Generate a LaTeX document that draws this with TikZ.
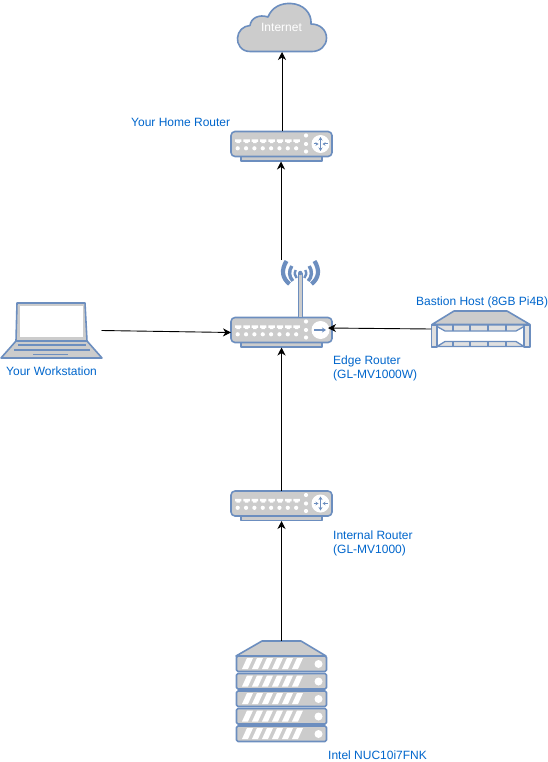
\documentclass[tikz,border=0pt]{standalone}
\usepackage{fontspec}
\setmainfont{Liberation Sans}
\usetikzlibrary{arrows.meta}
\definecolor{edgeblue}{HTML}{6C8EBF}
\definecolor{fillgrey}{HTML}{CCCCCC}
\definecolor{labelblue}{HTML}{0066CC}
\tikzset{
  dev/.style={draw=edgeblue,fill=fillgrey,line width=1.6pt,line join=round},
  thinblue/.style={draw=edgeblue,line width=1.3pt},
  wave/.style={draw=edgeblue,line cap=butt},
  anchorbox/.style={inner sep=0pt,outer sep=0pt,draw=none,rectangle},
  lbl/.style={text=labelblue,font=\fontsize{12}{14}\selectfont,inner sep=0pt,anchor=north west,align=left},
  conn/.style={draw=black,line width=0.9pt,-{Stealth[length=8pt,width=8pt,inset=2.5pt]}},
  pics/routerbody/.style={code={
    \draw[dev] (-40.5,12.5) rectangle (40.5,17);
    \draw[dev,rounded corners=4pt] (-50.5,-12.5) rectangle (50.5,12.5);
    \foreach \x in {0,...,7}{
      \fill[white] (-46.5+\x*8.35,-4.7) -- ++(6.4,0) -- ++(0,2.6) -- ++(-1.4,0) -- ++(0,1.2) -- ++(-3.6,0) -- ++(0,-1.2) -- ++(-1.4,0) -- cycle;
      \fill[white] (-43.8+\x*8.35,4.3) circle (2.1);
    }
    \foreach \y in {-8.5,0,7.5}{\fill[white] (24.5,\y) circle (2.1);}
    \fill[white] (39,0) circle (9);
  }},
  pics/hubsym/.style={code={
    \draw[edgeblue,line width=1pt,-{Stealth[length=3.5pt,width=4pt]}] (0,0) -- (0,-7);
    \draw[edgeblue,line width=1pt,-{Stealth[length=3.5pt,width=4pt]}] (0,0) -- (0,7);
    \draw[edgeblue,line width=1pt,-{Stealth[length=3pt,width=3.5pt]}] (-7,0) -- (-2,0);
    \draw[edgeblue,line width=1pt,-{Stealth[length=3pt,width=3.5pt]}] (7,0) -- (2,0);
  }}
}
\begin{document}
\begin{tikzpicture}[x=1pt,y=-1pt]
\useasboundingbox (0,0) rectangle (548,762);
\fill[white] (0,0) rectangle (548,762);

% Anchor nodes
\node[anchorbox,minimum width=90pt,minimum height=49pt] (cloud) at (282,27.5) {};
\node[anchorbox,minimum width=101pt,minimum height=30pt] (home) at (281.5,146.5) {};
\node[anchorbox,minimum width=101pt,minimum height=30pt] (edge) at (281.5,332.5) {};
\node[anchorbox,minimum width=101pt,minimum height=30pt] (inner) at (281.5,506) {};
\node[anchorbox,minimum width=101pt,minimum height=55pt] (laptop) at (51,330.5) {};
\node[anchorbox,minimum width=99pt,minimum height=36pt] (bastion) at (480.5,329) {};
\node[anchorbox,minimum width=91pt,minimum height=101pt] (server) at (281.5,691) {};
\coordinate (antennatop) at (281,260);
\coordinate (edgeport) at (328,328);

% Cloud
\draw[dev] (250,51.5)
  .. controls (241,51.5) and (237,44) .. (237.5,38)
  .. controls (238,31) and (243,26) .. (250,25.5)
  .. controls (251,18) and (259,14) .. (268,17)
  .. controls (272,7) and (281,3) .. (291,3.5)
  .. controls (303,4) and (312,13) .. (311,24)
  .. controls (320,24) and (326.5,30) .. (326.5,38)
  .. controls (326.5,46) and (320,51.5) .. (312,51.5)
  -- cycle;
\node[font=\fontsize{12}{14}\selectfont,text=white,inner sep=0pt] (cloudtext) at (281.5,27) {Internet};

% Routers
\pic at (281.5,144) {routerbody};
\pic at (320.5,144) {hubsym};
\pic at (281.5,330) {routerbody};
\pic at (281.5,503.5) {routerbody};
\pic at (320.5,503.5) {hubsym};
\draw[edgeblue,line width=1.1pt,-{Stealth[length=4pt,width=5pt]}] (314,330) -- (326,330);

% Antenna
\draw[dev,line width=1pt] (298.7,273) rectangle (302,317);
\draw[wave,line width=4.2pt] (286.5,261) .. controls (281,270) and (282,278) .. (289.5,284);
\draw[wave,line width=3.4pt] (291.8,266) .. controls (288.5,271) and (289,277) .. (292.8,281);
\draw[wave,line width=2.4pt] (295.7,270) .. controls (294.2,273) and (294.7,276) .. (296.7,278);
\draw[wave,line width=4.2pt] (314.5,261) .. controls (320,270) and (319,278) .. (311.5,284);
\draw[wave,line width=3.4pt] (309.2,266) .. controls (312.5,271) and (312,277) .. (308.2,281);
\draw[wave,line width=2.4pt] (305.3,270) .. controls (306.8,273) and (306.3,276) .. (304.3,278);
\fill[edgeblue] (300.3,273) circle (2.2);

% Laptop
\draw[dev] (16,341) -- (17,303) -- (85,303) -- (87,341) -- cycle;
\fill[white] (19.5,306) rectangle (83,337);
\draw[dev] (16,341) -- (87,341) -- (102,358) -- (1,358) -- cycle;
\draw[thinblue] (18,345) -- (86,345) (14,350) -- (90,350) (33,354.5) -- (68,354.5);

% Bastion
\draw[dev] (454,311) -- (507,311) -- (530,324.5) -- (432,324.5) -- cycle;
\draw[thinblue,fill=fillgrey!60] (437,326.5) -- (445,331) -- (516,331) -- (524,326.5) -- (524,325) -- (437,325) -- cycle;
\draw[thinblue,fill=fillgrey!60] (437,346.5) -- (445,341.5) -- (516,341.5) -- (524,346.5) -- cycle;
\foreach \x in {453,470,488,506}{
  \draw[thinblue] (\x,325) -- (\x,331) (\x,341.5) -- (\x,346.5);
}
\draw[dev,fill=fillgrey!60] (431.5,325) rectangle (437,347);
\draw[dev,fill=fillgrey!60] (524,325) rectangle (530,347);

% Server
\draw[dev] (262,641) -- (301,641) -- (326,656) -- (236,656) -- cycle;
\foreach \y in {656,673.5,691,708.5,726}{
  \draw[dev,rounded corners=1.5pt] (236.5,\y) rectangle (326.5,\y+15.5);
  \foreach \k in {0,...,5}{
    \fill[white] (242+\k*10,\y+13) -- ++(6,0) -- ++(5,-11) -- ++(-6,0) -- cycle;
  }
  \fill[white] (318.5,\y+8) circle (4);
}

% Connectors
\draw[conn] (home.north -| cloud.south) -- (cloud.south);
\draw[conn] (antennatop) -- (antennatop |- home.south);
\draw[conn] (inner.north) -- (edge.south);
\draw[conn] (server.north) -- (inner.south);
\draw[conn] (laptop.east) -- (edge.west);
\draw[conn] (bastion.west) -- (edgeport);

% Labels
\node[lbl] (l1) at (131,118) {Your Home Router};
\node[lbl] (l2) at (333,356) {Edge Router\\(GL-MV1000W)};
\node[lbl] (l3) at (6,367) {Your Workstation};
\node[lbl] (l4) at (416,297) {Bastion Host (8GB Pi4B)};
\node[lbl] (l5) at (333,531) {Internal Router\\(GL-MV1000)};
\node[lbl] (l6) at (328,751) {Intel NUC10i7FNK};
\end{tikzpicture}
\end{document}
